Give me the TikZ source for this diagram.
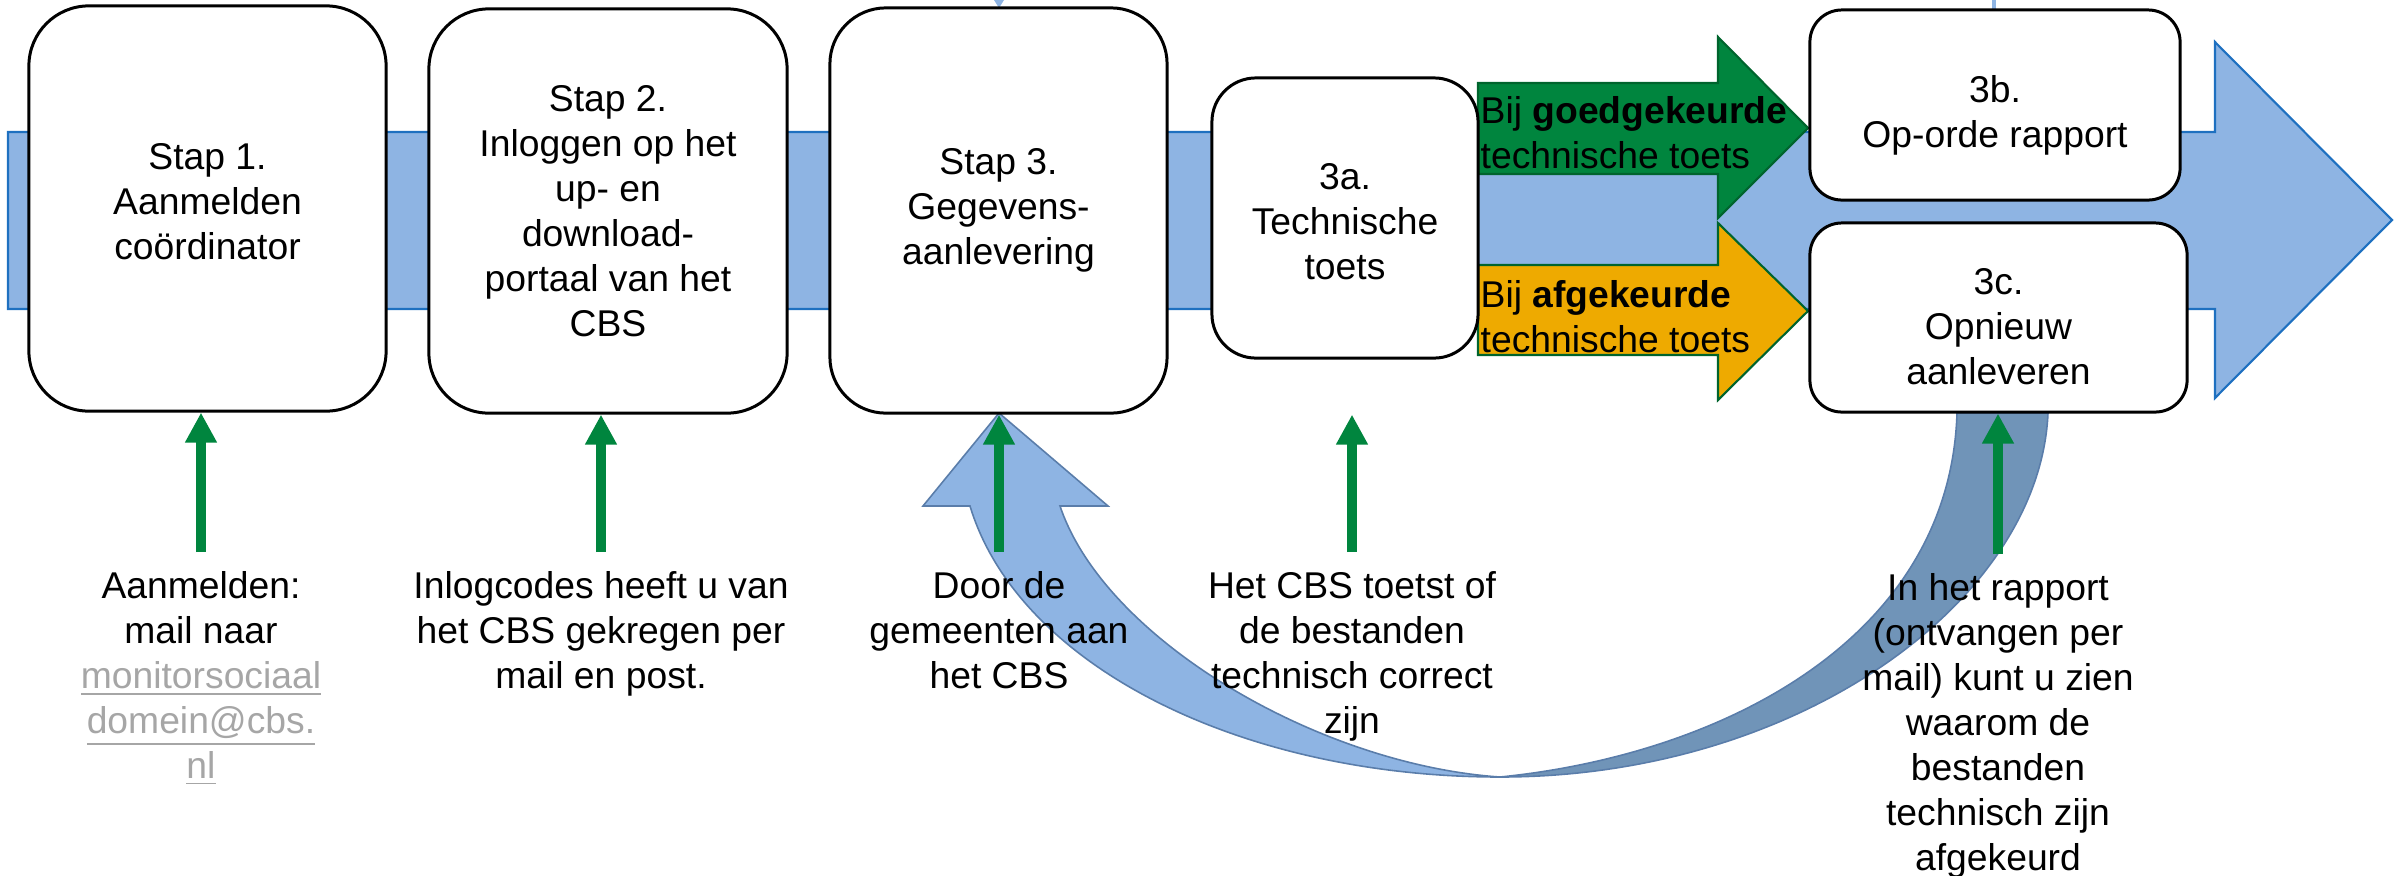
\documentclass[tikz,border=0pt]{standalone}
\usepackage{fontspec}
\setmainfont{Liberation Sans}
\usetikzlibrary{arrows.meta}
\definecolor{bandblauw}{RGB}{142,180,227}
\definecolor{bandrand}{RGB}{30,112,192}
\definecolor{cbsgroen}{RGB}{0,133,62}
\definecolor{groenrand}{RGB}{0,100,45}
\definecolor{afkeur}{RGB}{238,170,0}
\definecolor{boogrand}{RGB}{90,125,170}
\definecolor{boogdonker}{RGB}{112,148,184}
\definecolor{mailgrijs}{RGB}{166,166,166}
\newcommand\mailregel[1]{\textcolor{mailgrijs}{\underline{#1}}}

\begin{document}
\begin{tikzpicture}[x=0.01cm, y=-0.01cm, line join=miter,
	every node/.style={font=\fontsize{10.6}{12.8}\selectfont, inner sep=0pt},
	stap/.style={draw=black, line width=0.85pt, fill=white, align=center},
	uitleg/.style={align=center, anchor=north},
	band/.style={draw=bandrand, line width=0.6pt, fill=bandblauw},
	oordeel/.style={draw=groenrand, line width=0.6pt},
	omhoog/.style={draw=cbsgroen, line width=0.1cm, shorten <=0.19cm, -{Triangle[width=0.3cm,length=0.3cm]}}]
	\useasboundingbox (0,0) rectangle (2405,875);

	% brede pijl met de stappen
	\draw[band] (8,132) -- (2215,132) -- (2215,42) -- (2392,220) -- (2215,398) -- (2215,309) -- (8,309) -- cycle;
	\draw[oordeel, fill=cbsgroen] (1478,83) -- (1718,83) -- (1718,37) -- (1808,128) -- (1718,218) -- (1718,174) -- (1478,174) -- cycle;
	\draw[oordeel, fill=afkeur] (1478,265) -- (1718,265) -- (1718,223) -- (1808,311) -- (1718,400) -- (1718,355) -- (1478,355) -- cycle;
	\fill[bandblauw] (994,0) -- (1004,0) -- (999,8) -- cycle;
	\draw[bandblauw, line width=0.9pt] (1994,0) -- (1994,10);

	% terug naar stap 3
	\draw[boogrand, line width=0.45pt, fill=boogdonker] (2048,413) .. controls (2040,600) and (1800,777) .. (1500,777) .. controls (1720,755) and (1950,640) .. (1957,413) -- cycle;
	\draw[boogrand, line width=0.45pt, fill=bandblauw] (970,506) -- (923,506) -- (999,413) -- (1108,506) -- (1060,506) .. controls (1105,640) and (1320,765) .. (1500,777) .. controls (1240,777) and (1018,665) .. (970,506) -- cycle;

	\node[stap, minimum width=3.57cm, minimum height=4.05cm, rounded corners=0.6cm] (s1) at (207.5,208.5) {Stap 1.\\Aanmelden\\coördinator\rule[-0.14cm]{0pt}{0.14cm}};
	\node[stap, minimum width=3.58cm, minimum height=4.04cm, rounded corners=0.6cm] (s2) at (608,211) {Stap 2.\\Inloggen op het\\up- en\\download-\\portaal van het\\CBS};
	\node[stap, minimum width=3.37cm, minimum height=4.05cm, rounded corners=0.56cm] (s3) at (998.5,210.5) {Stap 3.\\Gegevens-\\aanlevering};
	\node[stap, minimum width=2.66cm, minimum height=2.8cm, rounded corners=0.44cm] (s3a) at (1345,218) {\rule{0pt}{0.33cm}3a.\\Technische\\toets};
	\node[stap, minimum width=3.7cm, minimum height=1.9cm, rounded corners=0.32cm] (s3b) at (1995,105) {\rule{0pt}{0.47cm}3b.\\Op-orde rapport};
	\node[stap, minimum width=3.77cm, minimum height=1.89cm, rounded corners=0.32cm] (s3c) at (1998.5,317.5) {\rule{0pt}{0.45cm}3c.\\Opnieuw\\aanleveren};

	\node[anchor=north west, align=left] (goed) at (1480,96) {Bij \textbf{goedgekeurde}\\technische toets};
	\node[anchor=north west, align=left] (fout) at (1480,280) {Bij \textbf{afgekeurde}\\technische toets};

	% toelichting onder de stappen
	\node[uitleg] (t1) at (201,571) {Aanmelden:\\mail naar\\\mailregel{monitorsociaal}\\\mailregel{domein@cbs.}\\\mailregel{nl}};
	\node[uitleg] (t2) at (601,571) {Inlogcodes heeft u van\\het CBS gekregen per\\mail en post.};
	\node[uitleg] (t3) at (999,571) {Door de\\gemeenten aan\\het CBS};
	\node[uitleg] (t4) at (1352,571) {Het CBS toetst of\\de bestanden\\technisch correct\\zijn};
	\node[uitleg] (t5) at (1998,573) {In het rapport\\(ontvangen per\\mail) kunt u zien\\waarom de\\bestanden\\technisch zijn\\afgekeurd};

	\draw[omhoog] (t1.north) -- (t1.north |- s1.south);
	\draw[omhoog] (t2.north) -- (t2.north |- s2.south);
	\draw[omhoog] (t3.north) -- (t3.north |- s3.south);
	\draw[omhoog] (t4.north) -- (t4.north |- s3.south);
	\draw[omhoog] (t5.north) -- (t5.north |- s3c.south);
\end{tikzpicture}
\end{document}
